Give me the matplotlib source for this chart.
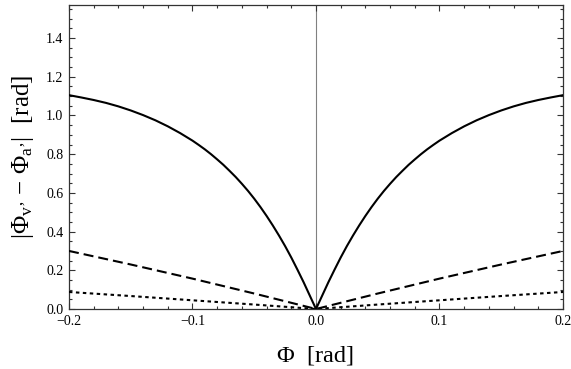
import numpy as np
import matplotlib
matplotlib.use("Agg")
import matplotlib.pyplot as plt
from matplotlib.ticker import MultipleLocator

plt.rcParams['font.family'] = ['Liberation Serif', 'DejaVu Serif']
plt.rcParams['mathtext.fontset'] = 'custom'
plt.rcParams['mathtext.rm'] = 'Liberation Serif'
plt.rcParams['mathtext.it'] = 'Liberation Serif:italic'
plt.rcParams['lines.scale_dashes'] = False

# Phase difference vs. phase, sampled on the positive half (curves are even in phi)
phi_solid = [0.000, 0.005, 0.010, 0.015, 0.020, 0.025, 0.030, 0.035, 0.040, 0.045,
             0.050, 0.055, 0.060, 0.065, 0.070, 0.075, 0.080, 0.085, 0.090, 0.095,
             0.100, 0.110, 0.120, 0.130, 0.140, 0.150, 0.160, 0.170, 0.180, 0.190,
             0.200]
diff_solid = [0.000, 0.069, 0.138, 0.203, 0.266, 0.325, 0.380, 0.432, 0.481, 0.527,
              0.570, 0.610, 0.647, 0.682, 0.714, 0.745, 0.773, 0.800, 0.825, 0.848,
              0.870, 0.909, 0.944, 0.975, 1.002, 1.026, 1.047, 1.065, 1.080, 1.093,
              1.105]

phi_dashed = [0.00, 0.05, 0.10, 0.15, 0.20]
diff_dashed = [0.0, 0.080, 0.157, 0.230, 0.300]

phi_dotted = [0.00, 0.05, 0.10, 0.15, 0.20]
diff_dotted = [0.0, 0.023, 0.045, 0.067, 0.088]

x_ticks = [-0.2, -0.1, 0.0, 0.1, 0.2]
x_ticklabels = ["\u22120.2", "\u22120.1", "0.0", "0.1", "0.2"]
y_ticks = [0.0, 0.2, 0.4, 0.6, 0.8, 1.0, 1.2, 1.4]
y_ticklabels = ["0.0", "0.2", "0.4", "0.6", "0.8", "1.0", "1.2", "1.4"]


def mirrored(x, y):
    x = np.asarray(x, dtype=float)
    y = np.asarray(y, dtype=float)
    return np.concatenate([-x[:0:-1], x]), np.concatenate([y[:0:-1], y])


fig = plt.figure(figsize=(5.71, 3.69), dpi=100)
ax = fig.add_axes([0.1208, 0.1626, 0.8652, 0.8238])

ax.axvline(0.0, color='#808080', lw=0.8, zorder=1)

xs, ys = mirrored(phi_solid, diff_solid)
ax.plot(xs, ys, color='black', lw=1.5, solid_joinstyle='round', zorder=3)

xs, ys = mirrored(phi_dashed, diff_dashed)
ax.plot(xs, ys, color='black', lw=1.5, dashes=(7.2, 3.6), zorder=3)

xs, ys = mirrored(phi_dotted, diff_dotted)
ax.plot(xs, ys, color='black', lw=1.5, dashes=(2.5, 2.5), zorder=3)

ax.set_xlim(-0.2, 0.2)
ax.set_ylim(0.0, np.pi / 2)

ax.set_xticks(x_ticks)
ax.set_xticklabels(x_ticklabels)
ax.set_yticks(y_ticks)
ax.set_yticklabels(y_ticklabels)
ax.xaxis.set_minor_locator(MultipleLocator(0.02))
ax.yaxis.set_minor_locator(MultipleLocator(0.05))

for s in ax.spines.values():
    s.set_color('#333333')
    s.set_linewidth(0.9)

ax.tick_params(which='both', direction='in', top=True, right=True,
               color='#333333', width=0.8, labelsize=10, pad=4)
ax.tick_params(which='major', length=4)
ax.tick_params(which='minor', length=2.2)

ax.set_xlabel("\u03a6  [rad]", fontsize=17.5, labelpad=13)
ax.set_ylabel("|\u03a6$_{\\mathrm{v}\u2019}$ \u2212 \u03a6$_{\\mathrm{a}\u2019}$|  [rad]",
              fontsize=18, labelpad=7)

fig.savefig("out.png", dpi=100)
